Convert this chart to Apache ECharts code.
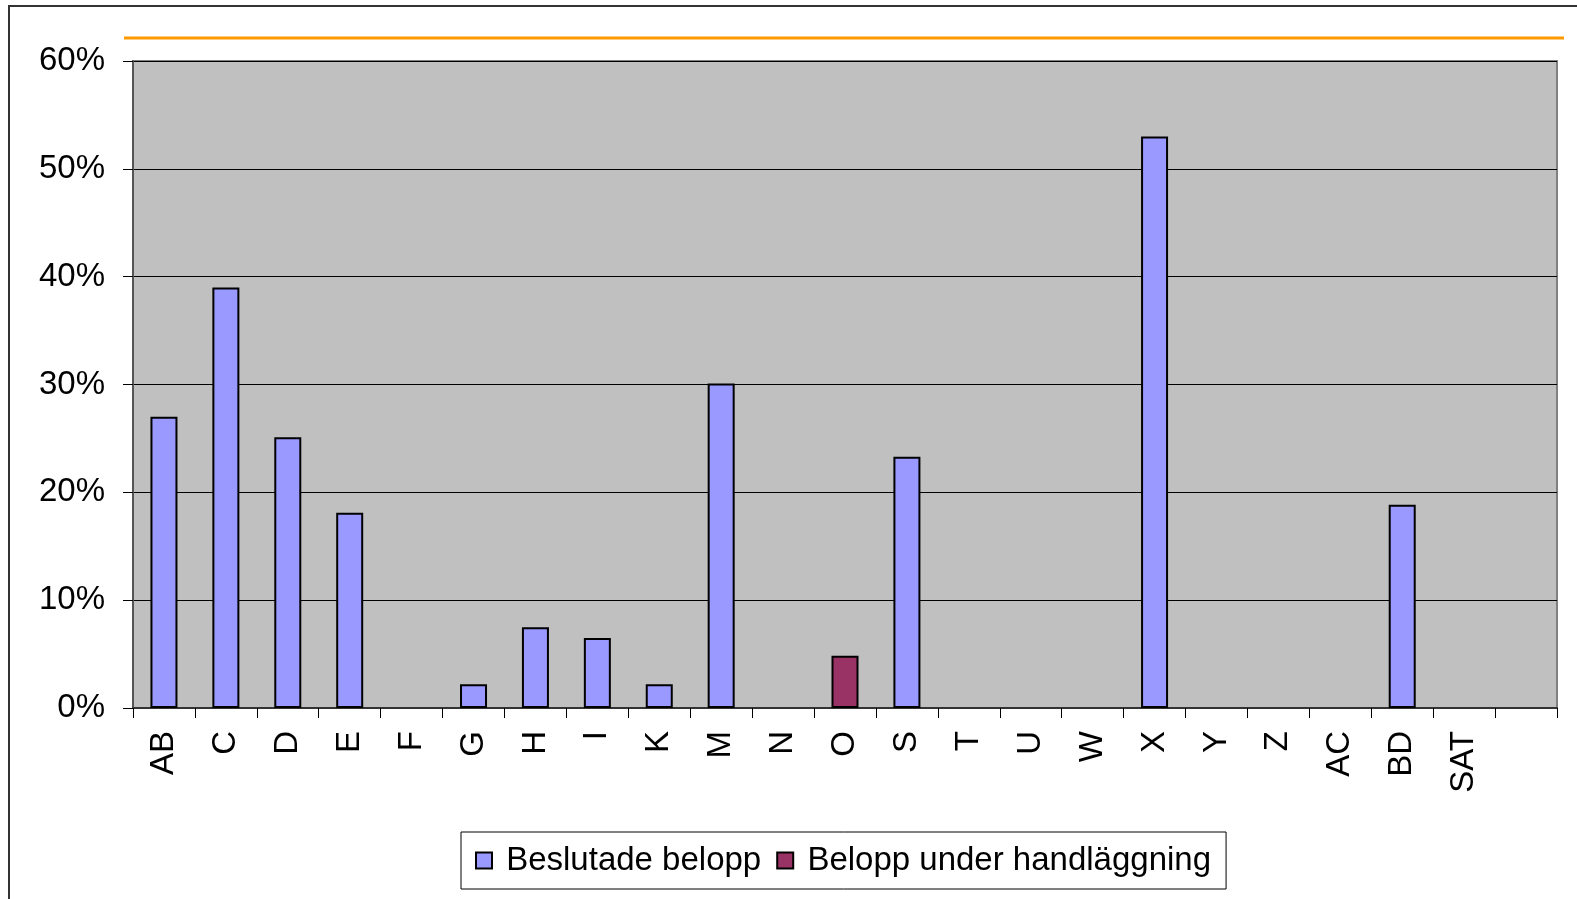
<!DOCTYPE html>
<html>
<head>
<meta charset="utf-8">
<script src="https://cdn.jsdelivr.net/npm/echarts@6/dist/echarts.min.js"></script>
<style>
  html, body { margin: 0; padding: 0; background: #fff; }
  #main { width: 1577px; height: 899px; }
</style>
</head>
<body>
<div id="main"></div>
<script>
// categories along the x axis (last slot is empty in the source)
const categories = ["AB", "C", "D", "E", "F", "G", "H", "I", "K", "M", "N", "O",
  "S", "T", "U", "W", "X", "Y", "Z", "AC", "BD", "SAT", ""];

// percent values
const beslutade = [27, 39, 25.1, 18.1, null, 2.2, 7.5, 6.5, 2.2, 30.1, null, null,
  23.3, null, null, null, 53, null, null, null, 18.85, null, null];
const underHandlaggning = [null, null, null, null, null, null, null, null, null, null, null, 4.85,
  null, null, null, null, null, null, null, null, null, null, null];

const yTicks = { min: 0, max: 60, interval: 10 };

const font = "'Liberation Sans', Arial, sans-serif";

let chart = echarts.init(document.getElementById("main"));
let option = {
  animation: false,
  backgroundColor: "#fff",
  textStyle: { fontFamily: font },
  graphic: [
    {
      type: "rect",
      shape: { x: 9, y: 6, width: 1600, height: 950 },
      style: { fill: "none", stroke: "#333", lineWidth: 2 },
      silent: true
    },
    {
      type: "line",
      shape: { x1: 124, y1: 38, x2: 1564, y2: 38 },
      style: { stroke: "#FF9900", lineWidth: 3 },
      silent: true
    }
  ],
  grid: {
    left: 133,
    top: 61,
    right: 20,
    bottom: 191,
    show: true,
    backgroundColor: "#C0C0C0",
    borderColor: "#808080",
    borderWidth: 2
  },
  legend: {
    left: 461,
    top: 832,
    itemWidth: 16,
    itemHeight: 16,
    itemGap: 15,
    padding: [12, 15, 12, 14],
    backgroundColor: "#fff",
    borderColor: "#000",
    borderWidth: 1,
    borderRadius: 0,
    formatter: " {name}",
    textStyle: { fontSize: 33, color: "#000", fontFamily: font },
    itemStyle: { borderColor: "#000", borderWidth: 2 },
    data: [
      { name: "Beslutade belopp", icon: "rect" },
      { name: "Belopp under handläggning", icon: "rect" }
    ]
  },
  xAxis: {
    type: "category",
    data: categories,
    boundaryGap: true,
    axisLine: { show: true, lineStyle: { color: "#333", width: 2 } },
    axisTick: { show: true, length: 10, interval: 0, lineStyle: { color: "#000", width: 1 } },
    axisLabel: {
      rotate: 90,
      interval: 0,
      margin: 23,
      fontSize: 33,
      color: "#000",
      fontFamily: font
    },
    splitLine: { show: false }
  },
  yAxis: {
    type: "value",
    min: yTicks.min,
    max: yTicks.max,
    interval: yTicks.interval,
    axisLine: { show: true, lineStyle: { color: "#555", width: 2 } },
    axisTick: { show: true, length: 10, lineStyle: { color: "#000", width: 1 } },
    axisLabel: {
      formatter: "{value}%",
      margin: 28,
      fontSize: 33,
      color: "#000",
      fontFamily: font
    },
    splitLine: { show: true, lineStyle: { color: "#000", width: 1 } }
  },
  series: [
    {
      name: "Beslutade belopp",
      type: "bar",
      stack: "total",
      barWidth: 27,
      itemStyle: { color: "#9999FF", borderColor: "#000", borderWidth: 2 },
      data: beslutade
    },
    {
      name: "Belopp under handläggning",
      type: "bar",
      stack: "total",
      barWidth: 27,
      itemStyle: { color: "#993366", borderColor: "#000", borderWidth: 2 },
      data: underHandlaggning
    }
  ]
};

option && chart.setOption(option);
</script>
</body>
</html>
